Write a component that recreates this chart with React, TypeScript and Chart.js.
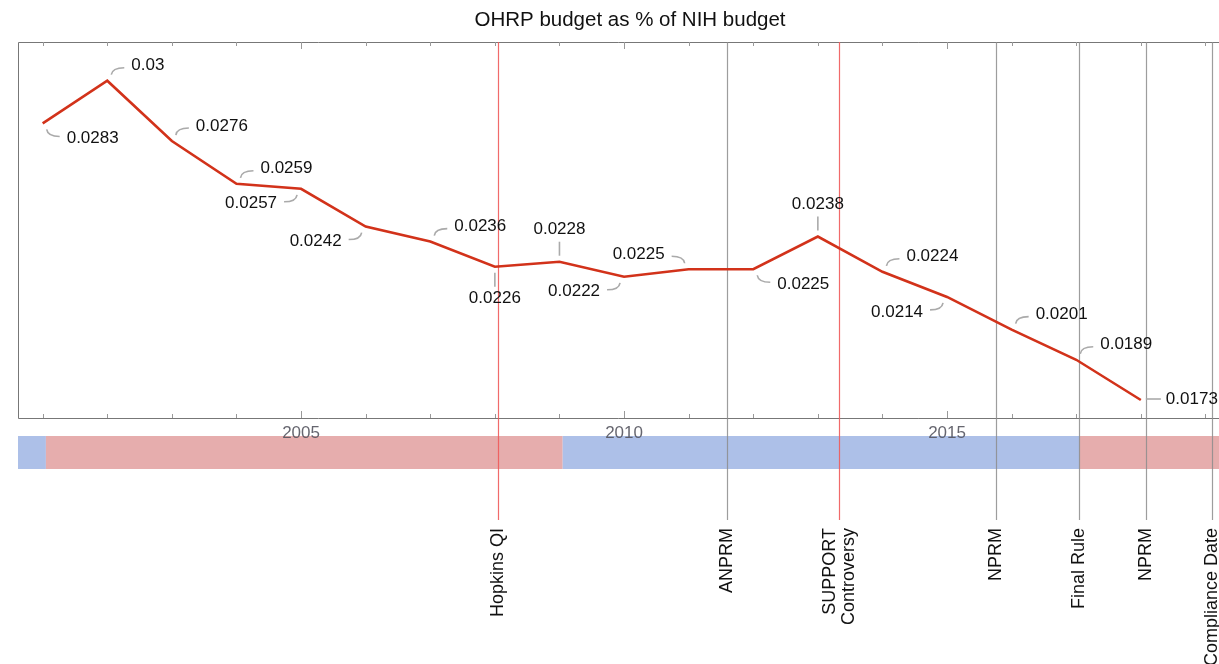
import React, { useEffect, useRef } from "react";
import { Chart, registerables } from "chart.js";

Chart.register(...registerables);

const TITLE = "OHRP budget as % of NIH budget";
const years = [2001, 2002, 2003, 2004, 2005, 2006, 2007, 2008, 2009, 2010, 2011, 2012, 2013, 2014, 2015, 2016, 2017, 2018];
const values = [0.0283, 0.03, 0.0276, 0.0259, 0.0257, 0.0242, 0.0236, 0.0226, 0.0228, 0.0222, 0.0225, 0.0225, 0.0238, 0.0224, 0.0214, 0.0201, 0.0189, 0.0173];
const valueLabels = ["0.0283", "0.03", "0.0276", "0.0259", "0.0257", "0.0242", "0.0236", "0.0226", "0.0228", "0.0222", "0.0225", "0.0225", "0.0238", "0.0224", "0.0214", "0.0201", "0.0189", "0.0173"];
const labelSides = ["se", "ne", "ne", "ne", "sw", "sw", "ne", "s", "n", "sw", "nw", "se", "n", "ne", "sw", "ne", "ne", "e"];

const eventNames = ["Hopkins QI", "ANPRM", "SUPPORT\nControversy", "NPRM", "Final Rule", "NPRM", "Compliance Date"];
const eventDates = [2008.05, 2011.59, 2013.33, 2015.76, 2017.05, 2018.08, 2019.1];
const eventHighlighted = [true, false, true, false, false, false, false];

const presidencyStarts = [1993.05, 2001.05, 2009.05, 2017.05];
const presidencyEnds = [2001.05, 2009.05, 2017.05, 2021.05];
const presidencyParty = ["D", "R", "D", "R"];

const majorTicks = [2005, 2010, 2015];
const minorTicks = [2001, 2002, 2003, 2004, 2005, 2006, 2007, 2008, 2009, 2010, 2011, 2012, 2013, 2014, 2015, 2016, 2017, 2018, 2019];

const X_MIN = 2000.618;
const X_MAX = 2019.21;
const Y_MIN = 0.016584;
const Y_MAX = 0.031539;

const FONT = '"Liberation Sans", Arial, sans-serif';

const decorPlugin = {
  id: "decor",
  beforeDatasetsDraw(chart: any) {
    const { ctx, chartArea, scales } = chart;
    const xs = scales.x;
    const { left, top, bottom } = chartArea;
    const right = chart.width;
    ctx.save();
    // presidency band
    const bandTop = 436;
    const bandBottom = 469;
    for (let i = 0; i < presidencyStarts.length; i++) {
      const x0 = Math.max(left, xs.getPixelForValue(presidencyStarts[i]));
      const x1 = Math.min(right, xs.getPixelForValue(presidencyEnds[i]));
      if (x1 <= x0) continue;
      ctx.fillStyle = presidencyParty[i] === "D" ? "#adc0e8" : "#e6adad";
      ctx.fillRect(x0, bandTop, x1 - x0, bandBottom - bandTop);
    }
    // tick labels
    ctx.fillStyle = "rgba(85,85,95,0.9)";
    ctx.font = `17px ${FONT}`;
    ctx.textAlign = "center";
    ctx.textBaseline = "middle";
    for (const t of majorTicks) {
      ctx.fillText(String(t), xs.getPixelForValue(t), 433);
    }
    // frame
    ctx.strokeStyle = "#777";
    ctx.lineWidth = 1;
    ctx.beginPath();
    ctx.moveTo(left + 0.5, top + 0.5);
    ctx.lineTo(right, top + 0.5);
    ctx.moveTo(left + 0.5, top + 0.5);
    ctx.lineTo(left + 0.5, bottom + 0.5);
    ctx.lineTo(right, bottom + 0.5);
    ctx.stroke();
    // ticks
    ctx.strokeStyle = "#999";
    ctx.beginPath();
    for (const t of minorTicks) {
      const x = Math.round(xs.getPixelForValue(t)) + 0.5;
      const len = majorTicks.includes(t) ? 7 : 4;
      ctx.moveTo(x, bottom);
      ctx.lineTo(x, bottom - len);
      ctx.moveTo(x, top);
      ctx.lineTo(x, top + len);
    }
    ctx.stroke();
    // event lines
    for (let i = 0; i < eventDates.length; i++) {
      const x = Math.round(xs.getPixelForValue(eventDates[i])) + 0.5;
      ctx.strokeStyle = eventHighlighted[i] ? "rgba(240,90,90,0.9)" : "rgba(140,140,140,0.85)";
      ctx.lineWidth = 1.2;
      ctx.beginPath();
      ctx.moveTo(x, top);
      ctx.lineTo(x, 520);
      ctx.stroke();
    }
    // event labels
    ctx.fillStyle = "#111";
    ctx.font = `18px ${FONT}`;
    ctx.textAlign = "right";
    ctx.textBaseline = "middle";
    for (let i = 0; i < eventDates.length; i++) {
      const x = xs.getPixelForValue(eventDates[i]);
      const lines = eventNames[i].split("\n");
      ctx.save();
      ctx.translate(x, 528);
      ctx.rotate(-Math.PI / 2);
      lines.forEach((ln, j) => {
        ctx.fillText(ln, 0, (j - (lines.length - 1) / 2) * 19);
      });
      ctx.restore();
    }
    // title
    ctx.fillStyle = "#111";
    ctx.font = `20.5px ${FONT}`;
    ctx.textAlign = "center";
    ctx.textBaseline = "middle";
    ctx.fillText(TITLE, 630, 20);
    ctx.restore();
  },
  afterDatasetsDraw(chart: any) {
    const { ctx } = chart;
    const meta = chart.getDatasetMeta(0);
    ctx.save();
    ctx.font = `17px ${FONT}`;
    ctx.textBaseline = "middle";
    meta.data.forEach((pt: any, i: number) => {
      const px = pt.x;
      const py = pt.y;
      const side = labelSides[i];
      ctx.strokeStyle = "#aaa";
      ctx.lineWidth = 1.6;
      ctx.fillStyle = "#111";
      ctx.beginPath();
      if (side === "n" || side === "s") {
        const d = side === "n" ? -1 : 1;
        ctx.moveTo(px, py + 6 * d);
        ctx.lineTo(px, py + 20 * d);
        ctx.stroke();
        ctx.textAlign = "center";
        ctx.fillText(valueLabels[i], px, py + 32 * d);
      } else if (side === "e") {
        ctx.moveTo(px + 5, py - 1);
        ctx.lineTo(px + 20, py - 1);
        ctx.stroke();
        ctx.textAlign = "left";
        ctx.fillText(valueLabels[i], px + 25, py - 1);
      } else {
        const dy = side[0] === "n" ? -1 : 1;
        const dx = side[1] === "e" ? 1 : -1;
        ctx.moveTo(px + 4 * dx, py + 6 * dy);
        ctx.quadraticCurveTo(px + 5 * dx, py + 13 * dy, px + 17 * dx, py + 13 * dy);
        ctx.stroke();
        ctx.textAlign = dx > 0 ? "left" : "right";
        ctx.fillText(valueLabels[i], px + 24 * dx, py + 15 * dy);
      }
    });
    ctx.restore();
  },
};

export default function App() {
  const ref = useRef<HTMLCanvasElement | null>(null);
  useEffect(() => {
    if (!ref.current) return;
    const chart = new Chart(ref.current, {
      type: "line",
      data: {
        datasets: [
          {
            data: years.map((y, i) => ({ x: y, y: values[i] })),
            borderColor: "#d2321a",
            borderWidth: 2.6,
            pointRadius: 0,
            fill: false,
            tension: 0,
          },
        ],
      },
      options: {
        responsive: false,
        animation: false,
        devicePixelRatio: 1,
        layout: { padding: { left: 18, top: 42, right: 0, bottom: 664 - 418 } },
        plugins: { legend: { display: false }, tooltip: { enabled: false }, title: { display: false } },
        scales: {
          x: { type: "linear", min: X_MIN, max: X_MAX, display: false },
          y: { type: "linear", min: Y_MIN, max: Y_MAX, display: false },
        },
      },
      plugins: [decorPlugin],
    });
    return () => chart.destroy();
  }, []);
  return (
    <div style={{ position: "absolute", left: 0, top: 0, width: 1219, height: 664, background: "#fff" }}>
      <canvas ref={ref} width={1219} height={664} style={{ width: 1219, height: 664, display: "block" }} />
    </div>
  );
}
